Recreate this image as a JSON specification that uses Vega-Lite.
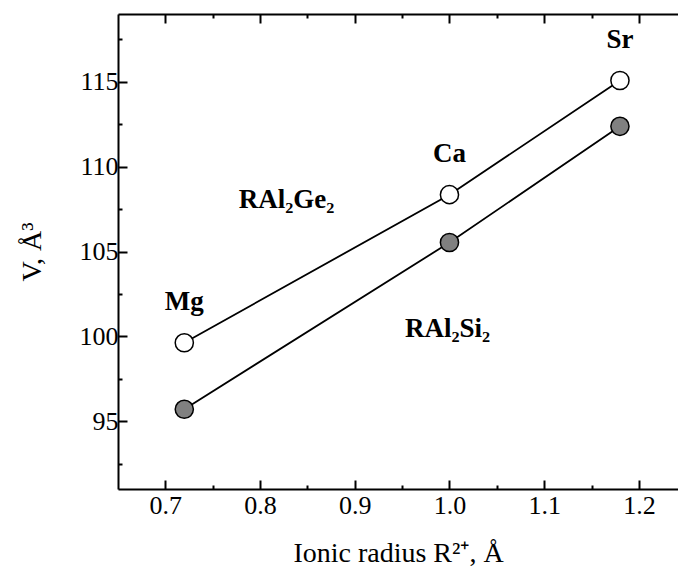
{
  "$schema": "https://vega.github.io/schema/vega-lite/v6.json",
  "width": 560,
  "height": 475,
  "autosize": {"type": "none"},
  "padding": {"left": 118, "top": 14, "right": 0, "bottom": 79},
  "background": "white",
  "config": {
    "view": {"stroke": null},
    "font": "Liberation Serif",
    "axis": {
      "grid": false,
      "domainColor": "black",
      "domainWidth": 2,
      "tickColor": "black",
      "tickWidth": 2,
      "labelFont": "Liberation Serif",
      "labelFontSize": 26,
      "labelColor": "black",
      "titleFont": "Liberation Serif",
      "titleFontSize": 28,
      "titleFontWeight": "normal",
      "titleColor": "black"
    }
  },
  "datasets": {
    "points": [
      {"element": "Mg", "radius": 0.72, "V": 99.62, "series": "RAl2Ge2"},
      {"element": "Ca", "radius": 1.0, "V": 108.35, "series": "RAl2Ge2"},
      {"element": "Sr", "radius": 1.18, "V": 115.08, "series": "RAl2Ge2"},
      {"element": "Mg", "radius": 0.72, "V": 95.7, "series": "RAl2Si2"},
      {"element": "Ca", "radius": 1.0, "V": 105.53, "series": "RAl2Si2"},
      {"element": "Sr", "radius": 1.18, "V": 112.38, "series": "RAl2Si2"}
    ],
    "notes": [
      {"radius": 0.828, "V": 107.58, "label": "RAl₂Ge₂"},
      {"radius": 0.998, "V": 99.98, "label": "RAl₂Si₂"}
    ]
  },
  "resolve": {"axis": {"x": "independent", "y": "independent"}},
  "layer": [
    {
      "data": {"name": "points"},
      "mark": {"type": "line", "color": "black", "strokeWidth": 1.8},
      "encoding": {
        "x": {
          "field": "radius", "type": "quantitative",
          "scale": {"domain": [0.65, 1.2413], "nice": false, "zero": false},
          "axis": {
            "orient": "bottom",
            "values": [0.7, 0.8, 0.9, 1.0, 1.1, 1.2],
            "format": ".1f",
            "tickSize": -9,
            "labelPadding": 12,
            "title": "Ionic radius R²⁺, Å",
            "titlePadding": 21
          }
        },
        "y": {
          "field": "V", "type": "quantitative",
          "scale": {"domain": [91, 119], "nice": false, "zero": false},
          "axis": {
            "orient": "left",
            "values": [95, 100, 105, 110, 115],
            "format": "d",
            "tickSize": -9,
            "labelPadding": 9,
            "title": "V, Å³",
            "titlePadding": 33
          }
        },
        "detail": {"field": "series"}
      }
    },
    {
      "data": {"name": "points"},
      "mark": {"type": "point", "shape": "circle", "size": 330, "stroke": "black", "strokeWidth": 1.5, "filled": true, "opacity": 1},
      "encoding": {
        "x": {
          "field": "radius", "type": "quantitative",
          "axis": {
            "orient": "top",
            "values": [0.7, 0.8, 0.9, 1.0, 1.1, 1.2],
            "labels": false,
            "title": null,
            "tickSize": -9
          }
        },
        "y": {
          "field": "V", "type": "quantitative",
          "axis": {
            "orient": "left",
            "values": [92.5, 97.5, 102.5, 107.5, 112.5, 117.5],
            "labels": false,
            "domain": false,
            "title": null,
            "tickSize": -4
          }
        },
        "fill": {
          "field": "series", "type": "nominal",
          "scale": {"domain": ["RAl2Ge2", "RAl2Si2"], "range": ["#ffffff", "#808080"]},
          "legend": null
        }
      }
    },
    {
      "data": {"name": "points"},
      "transform": [{"filter": "datum.series === 'RAl2Ge2'"}],
      "mark": {"type": "text", "font": "Liberation Serif", "fontWeight": "bold", "fontSize": 27, "color": "black", "align": "center", "baseline": "alphabetic", "dy": -33},
      "encoding": {
        "x": {
          "field": "radius", "type": "quantitative",
          "axis": {
            "orient": "bottom",
            "values": [0.75, 0.85, 0.95, 1.05, 1.15],
            "labels": false,
            "domain": false,
            "title": null,
            "tickSize": -4
          }
        },
        "y": {"field": "V", "type": "quantitative", "axis": null},
        "text": {"field": "element"}
      }
    },
    {
      "data": {"name": "notes"},
      "mark": {"type": "text", "font": "Liberation Serif", "fontWeight": "bold", "fontSize": 27, "color": "black", "align": "center", "baseline": "alphabetic"},
      "encoding": {
        "x": {
          "field": "radius", "type": "quantitative",
          "axis": {
            "orient": "top",
            "values": [0.75, 0.85, 0.95, 1.05, 1.15],
            "labels": false,
            "domain": false,
            "title": null,
            "tickSize": -4
          }
        },
        "y": {"field": "V", "type": "quantitative", "axis": null},
        "text": {"field": "label"}
      }
    }
  ]
}
